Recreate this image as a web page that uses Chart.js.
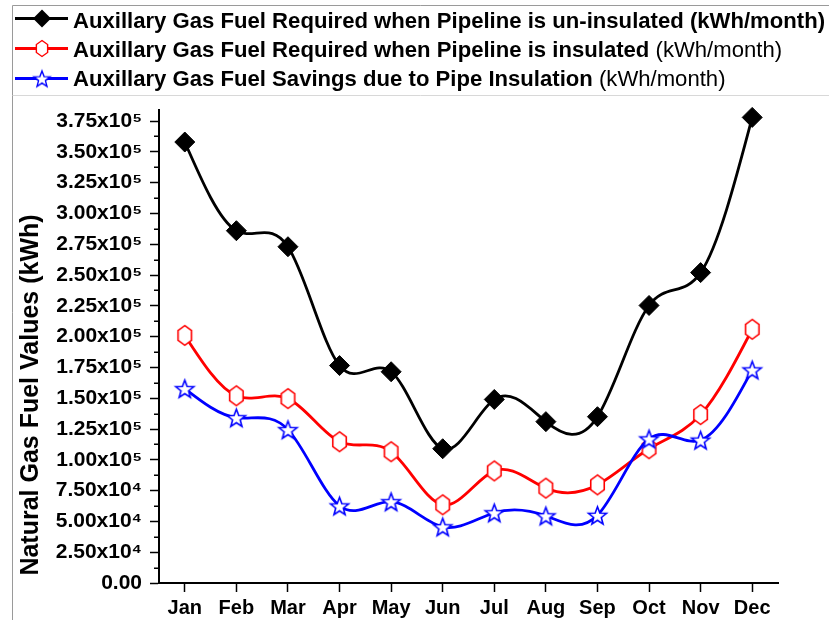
<!DOCTYPE html>
<html>
<head>
<meta charset="utf-8">
<script src="https://cdn.jsdelivr.net/npm/chart.js@4/dist/chart.umd.min.js"></script>
<style>
html,body{margin:0;padding:0;background:#fff;}
#c{display:block;}
</style>
</head>
<body>
<canvas id="c" width="829" height="620" style="width:829px;height:620px"></canvas>
<script>
const months = ['Jan','Feb','Mar','Apr','May','Jun','Jul','Aug','Sep','Oct','Nov','Dec'];
const uninsulated = [358000, 286000, 273000, 176500, 171500, 109000, 149000, 131000, 135000, 225300, 252000, 378000];
const insulated   = [201000, 152000, 149700, 114700, 106600, 63500, 91000, 77000, 79700, 109000, 136700, 206000];
const savings     = [157800, 134200, 124500, 62600, 66000, 45600, 57000, 54500, 55000, 117000, 116000, 173000];
const seriesLabels = [
  'Auxillary Gas Fuel Required when Pipeline is un-insulated (kWh/month)',
  'Auxillary Gas Fuel Required when Pipeline is insulated (kWh/month)',
  'Auxillary Gas Fuel Savings due to Pipe Insulation (kWh/month)'
];
const yTitle = 'Natural Gas Fuel Values (kWh)';
const yTickValues = [0, 25000, 50000, 75000, 100000, 125000, 150000, 175000, 200000, 225000, 250000, 275000, 300000, 325000, 350000, 375000];
const yMinorTickValues = [12500, 37500, 62500, 87500, 112500, 137500, 162500, 187500, 212500, 237500, 262500, 287500, 312500, 337500, 362500];
const yMax = 384000;

const FONT = '"Liberation Sans", Arial, "DejaVu Sans", sans-serif';

function hexCanvas(rx, ry, lw) {
  const w = Math.ceil(rx * 2 + lw * 2 + 2), h = Math.ceil(ry * 2 + lw * 2 + 2);
  const c = document.createElement('canvas'); c.width = w; c.height = h;
  const g = c.getContext('2d');
  g.beginPath();
  for (let i = 0; i < 6; i++) {
    const a = -Math.PI / 2 + i * Math.PI / 3;
    const x = w / 2 + rx * Math.cos(a), y = h / 2 + ry * Math.sin(a);
    i ? g.lineTo(x, y) : g.moveTo(x, y);
  }
  g.closePath();
  g.fillStyle = '#fff'; g.fill();
  g.strokeStyle = '#ff0000'; g.lineWidth = lw; g.stroke();
  return c;
}
function starCanvas(ro, ri, lw) {
  const s = Math.ceil(ro * 2 + lw * 2 + 2);
  const c = document.createElement('canvas'); c.width = s; c.height = s;
  const g = c.getContext('2d');
  g.beginPath();
  for (let i = 0; i < 10; i++) {
    const r = i % 2 ? ri : ro;
    const a = -Math.PI / 2 + i * Math.PI / 5;
    const x = s / 2 + r * Math.cos(a), y = s / 2 + 1 + r * Math.sin(a);
    i ? g.lineTo(x, y) : g.moveTo(x, y);
  }
  g.closePath();
  g.fillStyle = '#fff'; g.fill();
  g.strokeStyle = '#0000ff'; g.lineWidth = lw; g.lineJoin = 'miter'; g.stroke();
  return c;
}
const hexPt = hexCanvas(7.8, 9.8, 1.6);
const starPt = starCanvas(9.5, 4.0, 1.6);
const hexLeg = hexCanvas(6.5, 8, 1.4);
const starLeg = starCanvas(8.5, 3.6, 1.4);

// natural cubic spline tangents applied to the library's own point elements
const splinePlugin = {
  id: 'spline',
  beforeDatasetDraw(chart, args) {
    const meta = args.meta;
    const pts = meta.data;
    const n = pts.length;
    if (n < 3) return;
    const xs = pts.map(p => p.x), ys = pts.map(p => p.y);
    const h = [];
    for (let i = 0; i < n - 1; i++) h[i] = xs[i + 1] - xs[i];
    const M = new Array(n).fill(0);
    const a = [], b = [], c = [], r = [];
    for (let i = 1; i < n - 1; i++) {
      a[i] = h[i - 1]; b[i] = 2 * (h[i - 1] + h[i]); c[i] = h[i];
      r[i] = 6 * ((ys[i + 1] - ys[i]) / h[i] - (ys[i] - ys[i - 1]) / h[i - 1]);
    }
    for (let i = 2; i < n - 1; i++) {
      const m = a[i] / b[i - 1];
      b[i] -= m * c[i - 1];
      r[i] -= m * r[i - 1];
    }
    for (let i = n - 2; i >= 1; i--) {
      M[i] = (r[i] - (i < n - 2 ? c[i] * M[i + 1] : 0)) / b[i];
    }
    const d = [];
    for (let i = 0; i < n - 1; i++) d[i] = (ys[i + 1] - ys[i]) / h[i] - h[i] * (2 * M[i] + M[i + 1]) / 6;
    d[n - 1] = (ys[n - 1] - ys[n - 2]) / h[n - 2] + h[n - 2] * (M[n - 2] + 2 * M[n - 1]) / 6;
    for (let i = 0; i < n; i++) {
      const hp = i > 0 ? h[i - 1] : 0, hn = i < n - 1 ? h[i] : 0;
      pts[i].cp1x = xs[i] - hp / 3; pts[i].cp1y = ys[i] - d[i] * hp / 3;
      pts[i].cp2x = xs[i] + hn / 3; pts[i].cp2y = ys[i] + d[i] * hn / 3;
    }
    meta.dataset._pointsUpdated = true;
    meta.dataset._path = undefined;
  }
};

const decorPlugin = {
  id: 'decor',
  afterDraw(chart) {
    const ctx = chart.ctx;
    const ys = chart.scales.y;
    ctx.save();
    // frame
    ctx.strokeStyle = '#9a9a9a'; ctx.lineWidth = 1;
    ctx.beginPath();
    ctx.moveTo(12.5, 620); ctx.lineTo(12.5, 5.5); ctx.lineTo(829, 5.5);
    ctx.stroke();
    ctx.strokeStyle = '#d8d8d8';
    ctx.beginPath(); ctx.moveTo(12.5, 95.5); ctx.lineTo(829, 95.5); ctx.stroke();

    // minor y ticks
    ctx.strokeStyle = '#000'; ctx.lineWidth = 1.5;
    ctx.beginPath();
    yMinorTickValues.forEach(v => {
      const py = Math.round(ys.getPixelForValue(v)) + 0.25;
      ctx.moveTo(chart.chartArea.left - 5, py); ctx.lineTo(chart.chartArea.left, py);
    });
    ctx.stroke();

    // y title
    ctx.fillStyle = '#000';
    ctx.font = 'bold 25px ' + FONT;
    ctx.textAlign = 'center'; ctx.textBaseline = 'middle';
    ctx.translate(31, 395); ctx.rotate(-Math.PI / 2);
    ctx.fillText(yTitle, 0, 0);
    ctx.restore();

    // legend
    ctx.save();
    const colors = ['#000000', '#ff0000', '#0000ff'];
    const baselines = [28, 57, 86];
    const symY = [18.5, 48.5, 78.5];
    ctx.font = 'bold 22px ' + FONT;
    const fullW = ctx.measureText(seriesLabels[0]).width;
    const sx = 752 / fullW;
    for (let i = 0; i < 3; i++) {
      ctx.strokeStyle = colors[i]; ctx.lineWidth = 3;
      ctx.beginPath(); ctx.moveTo(15, symY[i]); ctx.lineTo(68, symY[i]); ctx.stroke();
      if (i === 0) {
        ctx.fillStyle = '#000';
        ctx.beginPath();
        ctx.moveTo(42 - 9, symY[i]); ctx.lineTo(42, symY[i] - 9); ctx.lineTo(42 + 9, symY[i]); ctx.lineTo(42, symY[i] + 9);
        ctx.closePath(); ctx.fill();
      } else {
        const img = i === 1 ? hexLeg : starLeg;
        ctx.drawImage(img, 42 - img.width / 2, symY[i] - img.height / 2);
      }
      ctx.save();
      ctx.translate(73, baselines[i]); ctx.scale(sx, 1);
      ctx.fillStyle = '#000'; ctx.textAlign = 'left'; ctx.textBaseline = 'alphabetic';
      const label = seriesLabels[i];
      if (i === 0) {
        ctx.font = 'bold 22px ' + FONT;
        ctx.fillText(label, 0, 0);
      } else {
        const k = label.lastIndexOf('(');
        const p1 = label.slice(0, k), p2 = label.slice(k);
        ctx.font = 'bold 22px ' + FONT;
        ctx.fillText(p1, 0, 0);
        const w1 = ctx.measureText(p1).width;
        ctx.font = '22px ' + FONT;
        ctx.fillText(p2, w1, 0);
      }
      ctx.restore();
    }
    ctx.restore();
  }
};

function fmt(v) {
  if (v === 0) return '0.00';
  const e = v >= 1e5 ? 5 : 4;
  return (v / Math.pow(10, e)).toFixed(2) + 'x10' + (e === 5 ? '\u2075' : '\u2074');
}

new Chart(document.getElementById('c'), {
  type: 'line',
  data: {
    labels: months,
    datasets: [
      { label: seriesLabels[0], data: uninsulated, borderColor: '#000', backgroundColor: '#000',
        borderWidth: 2.8, pointStyle: 'rectRot', pointRadius: 10, pointBorderWidth: 1,
        pointBackgroundColor: '#000', pointBorderColor: '#000', tension: 0.4, order: 2, clip: false },
      { label: seriesLabels[1], data: insulated, borderColor: '#ff0000', backgroundColor: '#fff',
        borderWidth: 2.8, pointStyle: hexPt, pointRadius: 10, tension: 0.4, order: 1, clip: false },
      { label: seriesLabels[2], data: savings, borderColor: '#0000ff', backgroundColor: '#fff',
        borderWidth: 2.8, pointStyle: starPt, pointRadius: 10, tension: 0.4, order: 0, clip: false }
    ]
  },
  options: {
    responsive: false,
    animation: false,
    layout: { padding: { top: 110, left: 0, right: 51, bottom: 0 } },
    plugins: { legend: { display: false }, title: { display: false }, tooltip: { enabled: false } },
    scales: {
      x: {
        offset: true,
        grid: { drawOnChartArea: false, drawTicks: true, tickLength: 9, tickColor: '#000', tickWidth: 1.5, offset: false },
        border: { display: true, color: '#000', width: 2 },
        ticks: { color: '#000', font: { family: FONT, size: 20, weight: 'bold' }, padding: 4, maxRotation: 0, autoSkip: false },
        afterFit(s) { s.height = 37; }
      },
      y: {
        min: 0, max: yMax,
        grid: { drawOnChartArea: false, drawTicks: true, tickLength: 9, tickColor: '#000', tickWidth: 1.5 },
        border: { display: true, color: '#000', width: 2 },
        ticks: { color: '#000', padding: 8, font: { family: FONT, size: 21, weight: 'bold' }, callback: fmt, autoSkip: false },
        afterBuildTicks(s) { s.ticks = yTickValues.map(v => ({ value: v })); },
        afterFit(s) { s.width = 159; }
      }
    }
  },
  plugins: [splinePlugin, decorPlugin]
});
</script>
</body>
</html>
